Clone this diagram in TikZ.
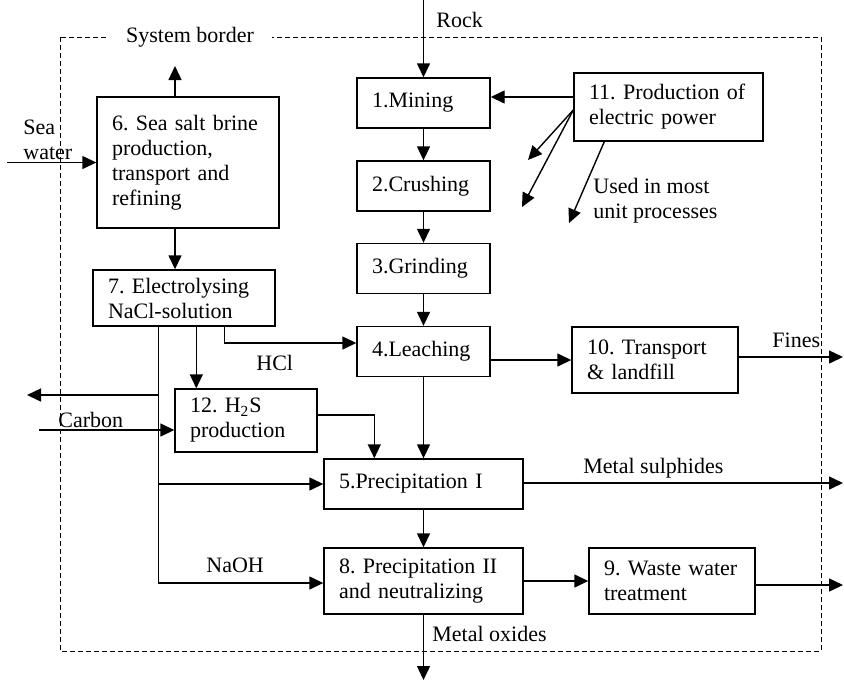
\documentclass[tikz,border=0pt]{standalone}
\usepackage{fontspec}
\setmainfont{Liberation Serif}
\usetikzlibrary{arrows.meta}
\frenchspacing
\hyphenpenalty=10000

\begin{document}
\begin{tikzpicture}[x=0.5pt,y=-0.5pt,
  box/.style={draw, line width=0.7pt, align=left, inner xsep=7.5pt, inner ysep=0pt, font=\fontsize{11}{12.5}\selectfont},
  arr/.style={line width=0.7pt, -{Triangle[length=7pt,width=6.5pt]}},
  lbl/.style={inner sep=0pt, align=left, font=\fontsize{11}{12.5}\selectfont}]
\useasboundingbox (0,0) rectangle (844,681);

% System border
\draw[dash pattern=on 2.5pt off 1.5pt, line width=0.5pt] (60,37) rectangle (821,651);
\node[lbl, fill=white, inner xsep=9pt, inner ysep=1pt] (sysb) at (190,37) {System border};

% Boxes
\node[box, text width=76pt, minimum height=65.5pt] (b6) at (188,162.5) {6. Sea salt brine\\production,\\transport and\\refining};
\node[box, text width=76pt, minimum height=28pt] (b7) at (184,298) {7. Electrolysing\\NaCl-solution};
\node[box, text width=51.5pt, minimum height=25pt] (b1) at (423.5,103) {1.Mining};
\node[box, text width=51.5pt, minimum height=25pt] (b2) at (423.5,186) {2.Crushing};
\node[box, text width=51.5pt, minimum height=25pt] (b3) at (423.5,268.5) {3.Grinding};
\node[box, text width=51.5pt, minimum height=25pt] (b4) at (423.5,351.5) {4.Leaching};
\node[box, text width=84.5pt, minimum height=25pt] (b5) at (423.5,484) {5.Precipitation I};
\node[box, text width=84.5pt, minimum height=33pt] (b8) at (423.5,581) {8. Precipitation II\\and neutralizing};
\node[box, text width=68pt, minimum height=33pt] (b9) at (672,581) {9. Waste water\\treatment};
\node[box, text width=68pt, minimum height=33pt] (b10) at (655,360) {10. Transport\\\& landfill};
\node[box, text width=79.5pt, minimum height=34pt] (b11) at (668.5,107) {11. Production of\\electric power};
\node[box, text width=56pt, minimum height=31.5pt] (b12) at (246,420.5) {12. H\textsubscript{2}S\\production};

% Free ends
\coordinate (rock) at (423.5,0);
\coordinate (sea) at (7,162.5);
\coordinate (air) at (175,66);
\coordinate (vent) at (27,395);
\coordinate (carb) at (39,430);
\coordinate (fines) at (843,357);
\coordinate (sulph) at (843,483);
\coordinate (water) at (843,585);
\coordinate (oxid) at (423.5,680);
\coordinate (use1) at (528,160);
\coordinate (use2) at (522,207);
\coordinate (use3) at (569,223);
\coordinate (trunk) at ([xshift=33pt]b7.south west);
\coordinate (h2src) at ([xshift=52pt]b7.south west);
\coordinate (hclsrc) at ([xshift=66pt]b7.south west);
\coordinate (h2dst) at ([xshift=25.5pt]b5.north west);

% Mining chain
\draw[arr] (rock) -- (b1.north);
\draw[arr] (b1) -- (b2);
\draw[arr] (b2) -- (b3);
\draw[arr] (b3) -- (b4);
\draw[arr] (b4) -- (b5);
\draw[arr] (b5) -- (b8);
\draw[arr] (b8) -- (b9);
\draw[arr] (b8.south) -- (oxid);
\draw[arr] (b4.east |- b10.west) -- (b10.west);
\draw[arr] (b10.east |- fines) -- (fines);
\draw[arr] (b5.east |- sulph) -- (sulph);
\draw[arr] (b9.east |- water) -- (water);

% Electric power
\draw[arr] ([yshift=5pt]b11.west) -- ([yshift=5pt]b11.west -| b1.east);
\draw[arr] ([yshift=-1.5pt]b11.west) -- (use1);
\draw[arr] ([yshift=-1.5pt]b11.west) -- (use2);
\draw[arr] ([xshift=15.5pt]b11.south west) -- (use3);

% Brine and electrolysis
\draw[arr] (sea) -- (b6.west);
\draw[arr] ([xshift=-6.5pt]b6.north) -- (air);
\draw[arr] ([xshift=-6.5pt]b6.south) -- ([xshift=-6.5pt]b6.south |- b7.north);
\draw[arr] (trunk) |- ([yshift=-1pt]b8.west);
\draw[arr] (trunk |- vent) -- (vent);
\draw[arr] (trunk |- b5.west) -- (b5.west);
\draw[arr] (h2src) -- (h2src |- b12.north);
\draw[arr] (hclsrc) |- ([yshift=4.25pt]b4.west);
\draw[arr] (carb) -- (carb -| b12.west);
\draw[arr] ([yshift=2.75pt]b12.east) -| (h2dst);

% Labels
\node[lbl, anchor=base west] (rocklbl) at (436,27) {Rock};
\node[lbl, anchor=west] (sealbl) at (23,140) {Sea\\water};
\node[lbl, anchor=west] (usedlbl) at (593,201) {Used in most\\unit processes};
\node[lbl, anchor=base west] (hcllbl) at (256,370) {HCl};
\node[lbl, anchor=base west] (carblbl) at (58,427) {Carbon};
\node[lbl, anchor=base west] (naohlbl) at (206,572) {NaOH};
\node[lbl, anchor=base west] (fineslbl) at (772,347) {Fines};
\node[lbl, anchor=base west] (sulphlbl) at (583,473) {Metal sulphides};
\node[lbl, anchor=base west] (oxidlbl) at (432,641) {Metal oxides};

\end{tikzpicture}
\end{document}
